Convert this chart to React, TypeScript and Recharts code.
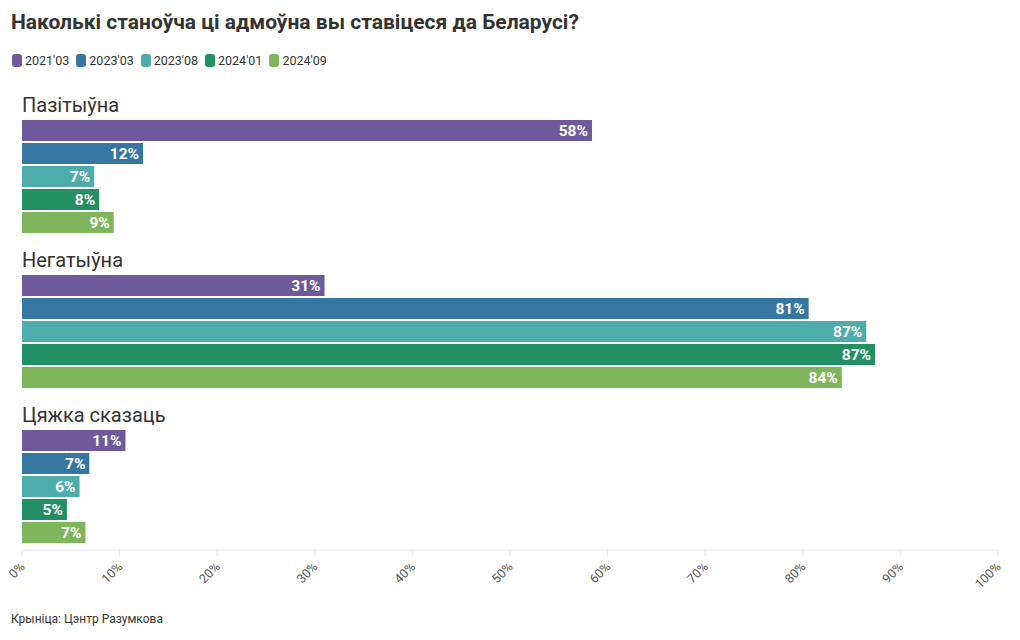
import { BarChart, Bar, XAxis, YAxis, LabelList } from 'recharts';

const groups = ['Пазітыўна', 'Негатыўна', 'Цяжка сказаць'];
const seriesNames = ["2021'03", "2023'03", "2023'08", "2024'01", "2024'09"];
const seriesColors = ['#6e5a9a', '#3577a1', '#4eadac', '#238f65', '#7fb65b'];

// values per series, in the order of groups
const s2021_03 = [58.4, 31.0, 10.6];
const s2023_03 = [12.4, 80.6, 6.9];
const s2023_08 = [7.4, 86.5, 5.9];
const s2024_01 = [7.9, 87.4, 4.6];
const s2024_09 = [9.4, 84.0, 6.5];

const seriesValues = [s2021_03, s2023_03, s2023_08, s2024_01, s2024_09];
const xTicks = [0, 10, 20, 30, 40, 50, 60, 70, 80, 90, 100];

const data = groups.map((g, i) => {
  const row: Record<string, string | number> = { group: g };
  seriesNames.forEach((s, j) => {
    row[s] = seriesValues[j][i];
  });
  return row;
});

const FONT = 'Roboto, "Noto Sans", sans-serif';

// group name written just above the first bar of each group
function GroupLabel(props: any) {
  const { x, y, value } = props;
  return (
    <text x={x} y={y - 8} fontSize={20} fill="#333" fontFamily={FONT} textAnchor="start">
      {value}
    </text>
  );
}

function PercentTick(props: any) {
  const { x, y, payload } = props;
  return (
    <text
      x={x}
      y={y}
      dy={11}
      fontSize={12.5}
      fill="#555"
      fontFamily={FONT}
      textAnchor="end"
      transform={`rotate(-45, ${x}, ${y + 6})`}
    >
      {`${payload.value}%`}
    </text>
  );
}

export default function App() {
  return (
    <div style={{ position: 'absolute', left: 0, top: 0, width: 1020, height: 640, background: '#fff', fontFamily: FONT }}>
      <div style={{ position: 'absolute', left: 11, top: 10, fontSize: 21, fontWeight: 700, color: '#333' }}>
        Наколькі станоўча ці адмоўна вы ставіцеся да Беларусі?
      </div>
      <div style={{ position: 'absolute', left: 12, top: 53, display: 'flex', fontSize: 12.5, color: '#333' }}>
        {seriesNames.map((s, i) => (
          <div key={s} style={{ display: 'flex', alignItems: 'center', marginRight: 7 }}>
            <span style={{ width: 10, height: 13, borderRadius: 3, background: seriesColors[i], marginRight: 3, display: 'inline-block' }} />
            <span>{s}</span>
          </div>
        ))}
      </div>
      <div style={{ position: 'absolute', left: 0, top: 0 }}>
        <BarChart
          width={1020}
          height={600}
          data={data}
          layout="vertical"
          margin={{ top: 98, right: 22, bottom: 0, left: 22 }}
          barCategoryGap={22}
          barGap={2}
        >
          <XAxis
            type="number"
            domain={[0, 100]}
            ticks={xTicks}
            interval={0}
            height={50}
            axisLine={{ stroke: '#e6e6e6' }}
            tickLine={{ stroke: '#e6e6e6' }}
            tickSize={6}
            tick={<PercentTick />}
          />
          <YAxis
            type="category"
            dataKey="group"
            width={0}
            hide
            padding={{ top: 0, bottom: -13 }}
          />
          {seriesNames.map((s, i) => (
            <Bar key={s} dataKey={s} fill={seriesColors[i]} isAnimationActive={false}>
              <LabelList
                dataKey={s}
                position="insideRight"
                offset={4}
                fill="#fff"
                fontSize={15.5}
                fontWeight={700}
                fontFamily={FONT}
                formatter={(v: any) => `${Math.round(Number(v))}%`}
              />
              {i === 0 && <LabelList dataKey="group" content={<GroupLabel />} />}
            </Bar>
          ))}
        </BarChart>
      </div>
      <div style={{ position: 'absolute', left: 11, top: 612, fontSize: 12, color: '#333' }}>
        Крыніца: Цэнтр Разумкова
      </div>
    </div>
  );
}
